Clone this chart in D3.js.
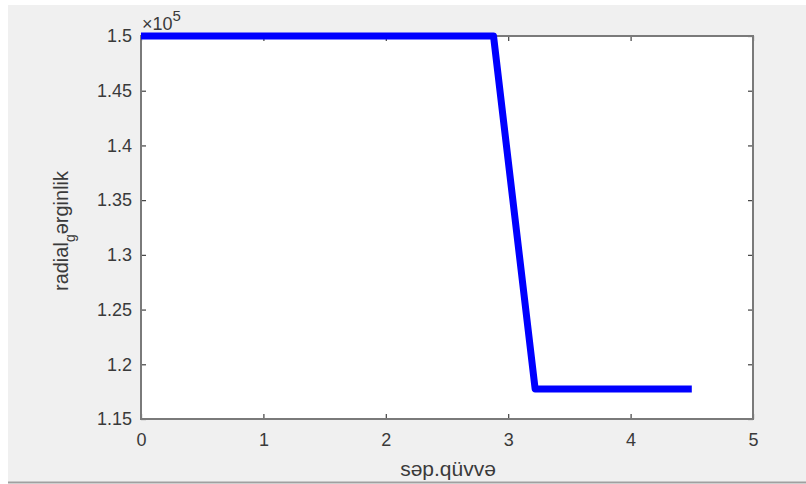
<!DOCTYPE html>
<html>
<head>
<meta charset="utf-8">
<script src="https://cdn.jsdelivr.net/npm/d3@7"></script>
<style>
  html, body { margin: 0; padding: 0; background: #fff; }
  svg { display: block; font-family: "Liberation Sans", Arial, sans-serif; }
</style>
</head>
<body>
<svg id="chart" width="806" height="484"></svg>
<script>
// values are in units of 10^5
const xValues = [0, 2.88, 3.22, 4.5];
const yValues = [1.5, 1.5, 1.1775, 1.1775];
const xTicks = [0, 1, 2, 3, 4, 5];
const yTicks = [1.15, 1.2, 1.25, 1.3, 1.35, 1.4, 1.45, 1.5];

const svg = d3.select('#chart');
const W = 806, H = 484;
const plot = {left: 141, right: 753, top: 36, bottom: 419};
const textColor = '#3a3a3a';

// figure background
svg.append('rect').attr('x', 8).attr('y', 5).attr('width', W - 8).attr('height', H - 7)
    .attr('fill', '#f0f0f0');
svg.append('line').attr('x1', 8).attr('x2', W).attr('y1', H - 1.5).attr('y2', H - 1.5)
    .attr('stroke', '#a0a0a0').attr('stroke-width', 2);

// plot area
svg.append('rect')
    .attr('x', plot.left).attr('y', plot.top)
    .attr('width', plot.right - plot.left).attr('height', plot.bottom - plot.top)
    .attr('fill', '#fff');

var x = d3.scaleLinear().domain([0, 5]).range([plot.left, plot.right]);
var y = d3.scaleLinear().domain([1.15, 1.5]).range([plot.bottom, plot.top]);

function styleAxis(g){
    g.select('.domain').remove();
    g.selectAll('.tick line').attr('stroke', '#404040').attr('stroke-width', 1.2);
    g.selectAll('.tick text')
        .attr('fill', textColor)
        .style('font-size', '18px')
        .style('font-family', '"Liberation Sans", Arial, sans-serif');
}

svg.append('g')
    .attr('transform', 'translate(0,' + plot.bottom + ')')
    .call(d3.axisBottom(x).tickValues(xTicks).tickFormat(d3.format('d')).tickSizeInner(-5).tickPadding(14))
    .call(styleAxis);
svg.append('g')
    .attr('transform', 'translate(0,' + plot.top + ')')
    .call(d3.axisTop(x).tickValues(xTicks).tickFormat('').tickSizeInner(-5))
    .call(styleAxis);
svg.append('g')
    .attr('transform', 'translate(' + plot.left + ',0)')
    .call(d3.axisLeft(y).tickValues(yTicks).tickFormat(d => String(+d.toFixed(2))).tickSizeInner(-5).tickPadding(9))
    .call(styleAxis);
svg.append('g')
    .attr('transform', 'translate(' + plot.right + ',0)')
    .call(d3.axisRight(y).tickValues(yTicks).tickFormat('').tickSizeInner(-5))
    .call(styleAxis);

// box
svg.append('rect')
    .attr('x', plot.left).attr('y', plot.top)
    .attr('width', plot.right - plot.left).attr('height', plot.bottom - plot.top)
    .attr('fill', 'none').attr('stroke', '#7a7a7a').attr('stroke-width', 2);

// data line (drawn over the box, like the reference)
var points = xValues.map((d, i) => [d, yValues[i]]);
svg.append('path')
    .datum(points)
    .attr('fill', 'none')
    .attr('stroke', '#0000ff')
    .attr('stroke-width', 7)
    .attr('stroke-linejoin', 'round')
    .attr('d', d3.line().x(d => x(d[0])).y(d => y(d[1])));

// exponent label
var expo = svg.append('text')
    .attr('x', plot.left + 1).attr('y', plot.top - 6)
    .attr('fill', textColor).style('font-size', '18px');
expo.append('tspan').text('\u00d710');
expo.append('tspan').attr('dy', -9).style('font-size', '15px').text('5');

// x label
svg.append('text')
    .attr('x', 448).attr('y', 476)
    .attr('text-anchor', 'middle')
    .attr('fill', textColor).style('font-size', '21px')
    .text('səp.qüvvə');

// y label
var ylab = svg.append('text')
    .attr('transform', 'translate(68,231) rotate(-90)')
    .attr('text-anchor', 'middle')
    .attr('fill', textColor).style('font-size', '20px');
ylab.append('tspan').text('radial');
ylab.append('tspan').attr('dy', 7).style('font-size', '14px').text('g');
ylab.append('tspan').attr('dy', -7).text('ərginlik');
</script>
</body>
</html>
